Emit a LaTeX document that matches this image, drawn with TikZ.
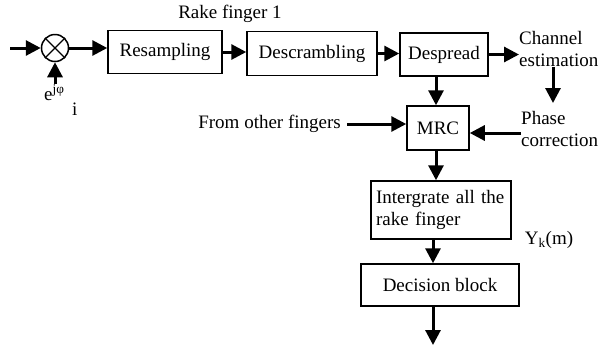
\documentclass[tikz,border=0pt]{standalone}
\usepackage{fontspec}
\setmainfont{Liberation Serif}
\usetikzlibrary{arrows.meta}
\begin{document}
\begin{tikzpicture}[x=1pt,y=-1pt,
  blk/.style={draw,line width=1.5pt,inner sep=0pt,font=\fontsize{19}{22}\selectfont},
  lbl/.style={inner sep=0pt,font=\fontsize{19}{22}\selectfont},
  arr/.style={line width=3pt,-{Triangle[length=15pt,width=15pt]}}]
\useasboundingbox (0,0) rectangle (612,349);
\node[draw,circle,line width=1.5pt,minimum size=27pt,inner sep=0pt] (mix) at (55,48) {};
\draw[line width=1.3pt] (mix.north west) -- (mix.south east) (mix.north east) -- (mix.south west);
\coordinate (in) at (10,48);
\node[blk,minimum width=114pt,minimum height=43pt] (res) at (165,52) {Resampling};
\node[blk,minimum width=130pt,minimum height=44pt] (desc) at (312,53.5) {Descrambling};
\node[blk,minimum width=88pt,minimum height=43pt] (desp) at (444,54.5) {Despread};
\node[blk,minimum width=62pt,minimum height=44pt] (mrc) at (438,128) {MRC};
\node[blk,minimum width=140pt,minimum height=58pt,align=left,text width=130pt] (int) at (441,210) {Intergrate all the\\rake finger};
\node[blk,minimum width=158pt,minimum height=42pt] (dec) at (440,285) {Decision block};
\coordinate (out) at (433,345);
\node[lbl] (rake) at (230,14) {Rake finger 1};
\node[lbl,anchor=base west] (ephi) at (44,100) {e\textsuperscript{jφ}};
\node[lbl,anchor=base west] (isub) at (72,115) {i};
\coordinate (ein) at (55,84);
\node[lbl,align=left,anchor=west] (chan) at (519,49) {Channel\\estimation};
\node[lbl,align=left,anchor=west] (phase) at (521,129) {Phase\\correction};
\node[lbl,anchor=east] (from) at (341,124) {From other fingers};
\node[lbl] (yk) at (549,240) {Y\textsubscript{k}(m)};
\draw[arr] (in) -- (mix);
\draw[arr] (ein) -- (mix);
\draw[arr] (mix) -- (res.west |- mix);
\draw[arr] (res.east) -- (desc.west |- res.east);
\draw[arr] (desc.east) -- (desp.west |- desc.east);
\draw[arr] (desp.east) -- (chan.west |- desp.east);
\draw[arr] (chan.south -| 553,0) -- (553,103);
\draw[arr] (phase.west |- 0,133) -- (mrc.east |- 0,133);
\draw[arr] (from.east) ++(6,0) -- (mrc.west |- from.east);
\draw[arr] (desp.south -| 436,0) -- (mrc.north -| 436,0);
\draw[arr] (mrc.south -| 436,0) -- (int.north -| 436,0);
\draw[arr] (int.south -| 433,0) -- (dec.north -| 433,0);
\draw[arr] (dec.south -| out) -- (out);
\end{tikzpicture}
\end{document}
